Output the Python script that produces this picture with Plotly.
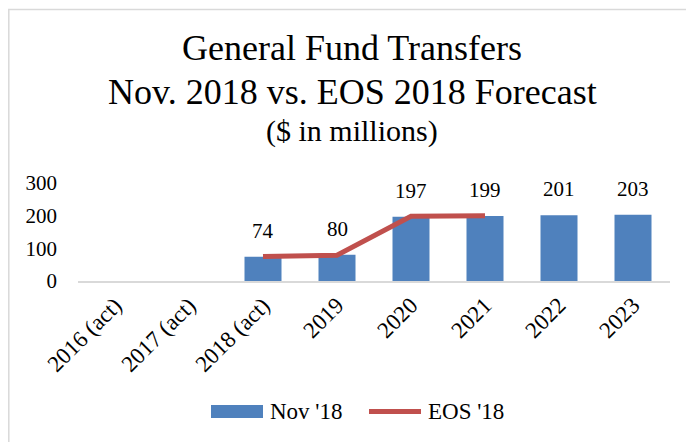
import plotly.graph_objects as go

categories = ["2016 (act)", "2017 (act)", "2018 (act)", "2019", "2020", "2021", "2022", "2023"]
nov18 = [None, None, 74, 80, 197, 199, 201, 203]
eos18 = [None, None, 75, 79, 198, 200, None, None]
y_ticks = [0, 100, 200, 300]

FONT = "Liberation Serif"
BAR = "#4F81BD"
LINE = "#C0504D"

# page has an 8px body margin; figure fills the rest of the 694x442 window
OFF = 8
W, H = 694 - OFF, 442 - OFF
# plot area in window pixels: x 78..670, y 183..281
L = 78 - OFF
R = W - (670 - OFF)
T = 183 - OFF
B = H - (281 - OFF)
pw, ph = W - L - R, H - T - B

def px_x(x):
    return (x - OFF - L) / pw

def px_y(y):
    return (H - B - (y - OFF)) / ph

fig = go.Figure()
fig.add_trace(go.Bar(x=categories, y=nov18, name="Nov '18", marker_color=BAR,
                     marker_line_width=0, showlegend=False))
fig.add_trace(go.Scatter(x=categories, y=eos18, name="EOS '18", mode="lines",
                         line=dict(color=LINE, width=5), connectgaps=False, showlegend=False))

annotations = []
for i, v in enumerate(nov18):
    if v is not None:
        annotations.append(dict(x=i, y=v, text=str(v), showarrow=False, xref="x", yref="y",
                                yanchor="bottom", yshift=12, font=dict(family=FONT, size=21, color="#000")))

titles = [("General Fund Transfers", 36, 48), ("Nov. 2018 vs. EOS 2018 Forecast", 36, 92),
          ("($ in millions)", 30, 131)]
for t, s, yc in titles:
    annotations.append(dict(x=px_x(352), y=px_y(yc), xref="paper", yref="paper", text=t,
                            showarrow=False, xanchor="center", yanchor="middle",
                            font=dict(family=FONT, size=s, color="#000")))

# legend (drawn manually)
annotations.append(dict(x=px_x(268), y=px_y(411), xref="paper", yref="paper", text="Nov '18",
                        showarrow=False, xanchor="left", yanchor="middle",
                        font=dict(family=FONT, size=23, color="#000")))
annotations.append(dict(x=px_x(426), y=px_y(411), xref="paper", yref="paper", text="EOS '18",
                        showarrow=False, xanchor="left", yanchor="middle",
                        font=dict(family=FONT, size=23, color="#000")))

shapes = [
    dict(type="rect", xref="paper", yref="paper", x0=px_x(8.8), x1=px_x(720),
         y0=px_y(470), y1=px_y(9.5), line=dict(color="#D9D9D9", width=1.5), layer="below"),
    dict(type="rect", xref="paper", yref="paper", x0=px_x(211), x1=px_x(263),
         y0=px_y(418), y1=px_y(405), fillcolor=BAR, line=dict(width=0)),
    dict(type="line", xref="paper", yref="paper", x0=px_x(369), x1=px_x(421),
         y0=px_y(411.5), y1=px_y(411.5), line=dict(color=LINE, width=5)),
]

fig.update_layout(
    width=W, height=H,
    margin=dict(l=L, r=R, t=T, b=B),
    paper_bgcolor="white", plot_bgcolor="white",
    bargap=0.5,
    font=dict(family=FONT, size=20, color="#000"),
    showlegend=False,
    xaxis=dict(type="category", range=[-0.5, 7.5], tickangle=-45, tickfont=dict(family=FONT, size=23),
               showline=True, linecolor="#D9D9D9", linewidth=1.5, ticks="", showgrid=False,
               automargin=False, ticklabelstandoff=0),
    yaxis=dict(range=[0, 300], tickvals=y_ticks, showgrid=False, zeroline=False,
               showline=False, tickfont=dict(family=FONT, size=21), ticks="",
               automargin=False, ticklabelstandoff=20),
    annotations=annotations,
    shapes=shapes,
)

fig.write_html("out.html")
